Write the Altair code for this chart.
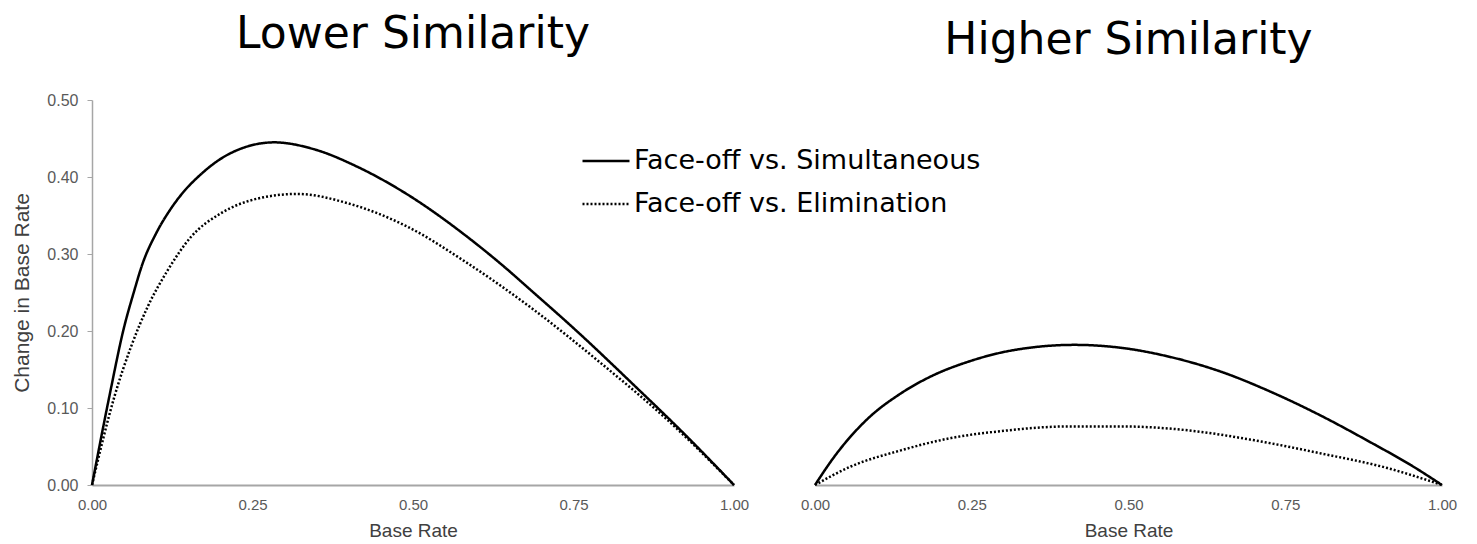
import altair as alt
import pandas as pd

SERIES = ["Face-off vs. Simultaneous", "Face-off vs. Elimination"]
PANELS = ["Lower Similarity", "Higher Similarity"]

# Lower similarity panel
low_sim_x = [0, 0.027, 0.05, 0.065, 0.079, 0.10, 0.123, 0.145, 0.165, 0.216, 0.284, 0.346, 0.414, 0.49, 0.585, 0.637, 0.689, 0.751, 0.845, 0.923, 1.0]
low_sim_y = [0, 0.115, 0.205, 0.250, 0.288, 0.327, 0.359, 0.383, 0.400, 0.431, 0.445, 0.436, 0.413, 0.378, 0.322, 0.287, 0.249, 0.203, 0.129, 0.066, 0]
low_eli_x = [0, 0.035, 0.061, 0.087, 0.118, 0.154, 0.201, 0.258, 0.320, 0.398, 0.49, 0.585, 0.689, 0.793, 0.897, 1.0]
low_eli_y = [0, 0.115, 0.180, 0.232, 0.279, 0.322, 0.353, 0.372, 0.378, 0.366, 0.336, 0.288, 0.227, 0.158, 0.084, 0]

# Higher similarity panel
high_sim_x = [0, 0.031, 0.084, 0.137, 0.190, 0.244, 0.297, 0.350, 0.414, 0.49, 0.568, 0.648, 0.727, 0.807, 0.887, 0.950, 1.0]
high_sim_y = [0, 0.037, 0.086, 0.119, 0.143, 0.160, 0.172, 0.179, 0.182, 0.178, 0.166, 0.147, 0.121, 0.090, 0.055, 0.026, 0]
high_eli_x = [0, 0.057, 0.137, 0.217, 0.297, 0.403, 0.49, 0.595, 0.701, 0.807, 0.913, 1.0]
high_eli_y = [0, 0.024, 0.045, 0.061, 0.070, 0.076, 0.076, 0.071, 0.058, 0.041, 0.022, 0]

x_ticks = [0, 0.25, 0.5, 0.75, 1.0]
y_ticks = [0, 0.1, 0.2, 0.3, 0.4, 0.5]


def frame(panel, series, xs, ys):
    return pd.DataFrame({"panel": panel, "series": series, "x": xs, "y": ys, "order": range(len(xs))})


df = pd.concat([
    frame(PANELS[0], SERIES[0], low_sim_x, low_sim_y),
    frame(PANELS[0], SERIES[1], low_eli_x, low_eli_y),
    frame(PANELS[1], SERIES[0], high_sim_x, high_sim_y),
    frame(PANELS[1], SERIES[1], high_eli_x, high_eli_y),
], ignore_index=True)

AX_GRAY = "#a6a6a6"
LBL = "#595959"

dash = alt.StrokeDash(
    "series:N",
    scale=alt.Scale(domain=SERIES, range=[[1, 0], [2, 2]]),
    legend=alt.Legend(
        title=None, orient="none", legendX=489, legendY=36,
        symbolType="stroke", symbolSize=2209, symbolStrokeWidth=2.5,
        symbolStrokeColor="black", labelFont="DejaVu Sans", labelFontSize=27,
        labelColor="black", labelOffset=3, rowPadding=5, labelLimit=0,
    ),
)

x_axis = alt.Axis(values=x_ticks, format=".2f", title="Base Rate", grid=False, ticks=False,
                  labelFlush=False,
                  domainColor=AX_GRAY, domainWidth=2, labelFont="Liberation Sans", labelFontSize=15,
                  labelColor=LBL, labelPadding=12, titleFont="Liberation Sans", titleFontSize=19,
                  titleFontWeight="normal", titleColor="#404040", titlePadding=9)


def panel(name, width, show_y, title_offset):
    y_enc = alt.Y("y:Q", scale=alt.Scale(domain=[0, 0.5], nice=False),
                  axis=alt.Axis(values=y_ticks, format=".2f", title="Change in Base Rate", grid=False,
                                labelFlush=False,
                                tickSize=5, tickColor=AX_GRAY, domainColor=AX_GRAY, domainWidth=1.5,
                                labelFont="Liberation Sans", labelFontSize=16, labelColor=LBL,
                                labelPadding=9, titleFont="Liberation Sans", titleFontSize=21,
                                titleFontWeight="normal", titleColor="#404040", titlePadding=14)
                  if show_y else None)
    return alt.Chart(df).transform_filter(alt.datum.panel == name).mark_line(
        color="black", strokeWidth=2.5, interpolate="monotone"
    ).encode(
        x=alt.X("x:Q", scale=alt.Scale(domain=[0, 1], nice=False), axis=x_axis),
        y=y_enc,
        strokeDash=dash,
        detail="series:N",
        order="order:Q",
    ).properties(
        width=width, height=385,
        title=alt.TitleParams(name, fontSize=44, font="DejaVu Sans", fontWeight="normal",
                              color="black", anchor="middle", offset=title_offset, frame="group"),
    )


chart = alt.hconcat(
    panel(PANELS[0], 642, True, 35),
    panel(PANELS[1], 627, False, 37),
    spacing=81, bounds="flush",
).properties(
    padding={"left": 3, "top": 5, "right": 5, "bottom": 0}
).configure_view(stroke=None)

chart.save("out.html", embed_options={"renderer": "svg", "actions": False})
